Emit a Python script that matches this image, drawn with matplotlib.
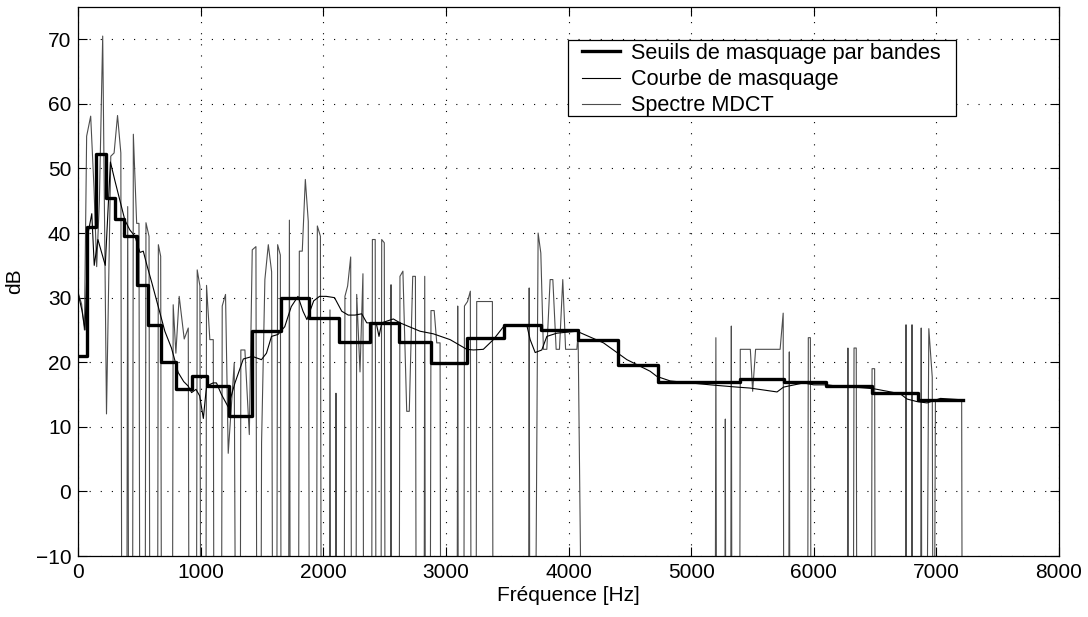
import matplotlib
matplotlib.use("Agg")
import matplotlib.pyplot as plt
from matplotlib.patches import Rectangle

plt.rcParams['font.family'] = ['Liberation Sans', 'DejaVu Sans']
plt.rcParams['font.size'] = 15

# Band masking thresholds (step function): band edges [Hz] and level per band [dB]
band_edges = [0, 72, 148, 225, 298, 374, 475, 565, 673, 793, 924, 1046, 1231, 1419,
              1653, 1880, 2129, 2380, 2619, 2875, 3169, 3475, 3775, 4075, 4401, 4728,
              5051, 5400, 5753, 6100, 6475, 6851, 7218]
band_levels = [21.0, 40.9, 52.2, 45.5, 42.2, 39.5, 32.0, 25.7, 20.0, 15.8, 17.8, 16.3,
               11.7, 24.9, 30.0, 26.9, 23.2, 26.0, 23.2, 19.9, 23.8, 25.7, 25.0, 23.4,
               19.5, 16.9, 17.0, 17.4, 16.9, 16.3, 15.3, 14.1]

# Masking curve
mask_freq = [0, 30, 55, 80, 110, 130, 160, 190, 220, 262, 300, 340, 380, 420, 462, 503,
             530, 560, 600, 706, 760, 815, 860, 897, 924, 960, 990, 1020, 1046, 1100,
             1127, 1168, 1222, 1278, 1346, 1420, 1494, 1535, 1576, 1629, 1684, 1737,
             1792, 1833, 1865, 1920, 1968, 2022, 2090, 2149, 2202, 2257, 2312, 2353,
             2430, 2453, 2475, 2570, 2624, 2788, 2896, 3033, 3169, 3223, 3304, 3386,
             3468, 3522, 3659, 3686, 3727, 3781, 3822, 3904, 4067, 4284, 4475, 4665,
             4720, 4829, 4992, 5155, 5373, 5482, 5700, 5753, 5917, 5998, 6108, 6190,
             6300, 6488, 6600, 6706, 6761, 6843, 6924, 7033, 7196]
mask_db = [30.5, 28.0, 25.0, 40.0, 43.0, 35.0, 39.0, 37.0, 35.0, 51.0, 48.0, 45.0, 42.0,
           40.5, 39.5, 37.0, 37.2, 35.0, 32.3, 24.8, 22.2, 18.4, 17.0, 16.3, 15.3, 15.8,
           14.8, 11.3, 16.3, 16.8, 16.8, 15.0, 13.1, 16.8, 20.5, 20.9, 20.4, 21.4, 24.0,
           24.3, 25.5, 28.6, 30.2, 27.9, 26.6, 29.5, 30.2, 30.2, 30.0, 27.9, 27.3, 27.3,
           27.5, 26.1, 26.1, 24.0, 26.1, 26.7, 26.1, 24.8, 24.4, 23.5, 22.0, 21.9, 22.0,
           23.5, 25.5, 25.8, 25.7, 23.5, 21.5, 21.9, 24.0, 24.5, 24.8, 23.0, 20.4, 18.6,
           17.8, 17.1, 16.8, 16.5, 16.15, 16.0, 15.4, 16.15, 16.8, 16.5, 16.5, 16.3,
           16.2, 15.9, 15.5, 15.1, 14.3, 13.9, 13.7, 14.4, 14.2]

# MDCT spectrum (-60 = empty bin, below the axis)
spec_freq = [0, 27, 50, 68, 101, 128, 150, 172, 199, 230, 265, 292, 320, 347, 358, 392,
             403, 414, 440, 449, 476, 495, 505, 542, 552, 577, 587, 643, 653, 672, 682,
             764, 774, 796, 823, 864, 897, 907, 960, 970, 992, 1002, 1038, 1046, 1073,
             1101, 1110, 1165, 1174, 1201, 1223, 1272, 1290, 1318, 1326, 1359, 1395,
             1419, 1449, 1460, 1485, 1495, 1522, 1550, 1577, 1590, 1615, 1626, 1648,
             1658, 1712, 1722, 1732, 1793, 1803, 1827, 1852, 1876, 1890, 1940, 1950,
             1975, 1985, 2045, 2053, 2062, 2094, 2102, 2110, 2165, 2175, 2197, 2222,
             2232, 2262, 2271, 2298, 2322, 2330, 2390, 2399, 2422, 2432, 2466, 2475,
             2496, 2506, 2543, 2551, 2559, 2614, 2624, 2648, 2679, 2700, 2728, 2750,
             2760, 2818, 2826, 2834, 2867, 2877, 2903, 2924, 2951, 2960, 3087, 3095,
             3103, 3142, 3150, 3175, 3198, 3208, 3242, 3250, 3378, 3386, 3670, 3678,
             3686, 3718, 3751, 3773, 3794, 3822, 3849, 3871, 3898, 3925, 3952, 3975,
             4067, 4077, 4125, 5192, 5201, 5210, 5270, 5278, 5286, 5318, 5327, 5335,
             5392, 5400, 5482, 5501, 5525, 5725, 5750, 5758, 5792, 5800, 5808, 5946,
             5955, 5972, 5980, 6270, 6278, 6286, 6318, 6328, 6346, 6354, 6466, 6475,
             6496, 6504, 6744, 6752, 6760, 6793, 6801, 6809, 6868, 6876, 6884, 6912,
             6938, 6966, 6976, 6992, 7206, 7214]
spec_db = [30.7, 29.0, 25.0, 55.0, 58.1, 47.0, 34.8, 45.0, 70.5, 12.0, 51.9, 52.4, 58.2,
           52.4, -60, -60, 44.1, -60, -60, 55.3, 41.5, 41.5, -60, -60, 41.6, 39.5, -60,
           -60, 38.2, 36.4, -60, -60, 28.9, 21.4, 30.2, 23.6, 25.3, -60, -60, 34.3, 31.8,
           -60, -60, 31.9, 23.5, 23.5, -60, -60, 28.7, 30.5, 5.9, 19.9, -60, -60, 21.9,
           21.9, 8.8, 37.4, 37.9, -60, -60, 7.5, 32.8, 38.2, 34.0, -60, -60, 38.2, 36.6,
           -60, -60, 42.0, -60, -60, 37.2, 37.2, 48.3, 41.8, -60, -60, 41.1, 39.5, -60,
           -60, 28.1, -60, -60, 15.2, -60, -60, 30.2, 31.8, 36.3, -60, -60, 30.5, 18.5,
           33.7, -60, -60, 39.0, 39.0, -60, -60, 39.0, 38.5, -60, -60, 32.0, -60, -60,
           33.3, 34.1, 12.4, 12.4, 33.3, 33.3, -60, -60, 33.3, -60, -60, 28.0, 28.0,
           23.0, 23.0, -60, -60, 28.7, -60, -60, 28.7, 29.4, 31.0, -60, -60, 29.4, 29.4,
           -60, -60, 31.5, -60, -60, 40.0, 36.9, 22.0, 22.0, 32.8, 32.8, 22.0, 22.0,
           32.8, 22.0, 22.0, 24.5, -60, -60, 23.8, -60, -60, 11.2, -60, -60, 25.6, -60,
           -60, 22.0, 22.0, 15.5, 22.0, 22.0, 27.6, -60, -60, 21.6, -60, -60, 23.8, 23.8,
           -60, -60, 22.2, -60, -60, 22.2, 22.2, -60, -60, 19.0, 19.0, -60, -60, 25.8,
           -60, -60, 25.8, -60, -60, 25.3, -60, -60, 25.2, 17.7, -60, 14.2, 14.2, -60]

x_ticks = [0, 1000, 2000, 3000, 4000, 5000, 6000, 7000, 8000]
y_ticks = [-10, 0, 10, 20, 30, 40, 50, 60, 70]
labels = ['Seuils de masquage par bandes', 'Courbe de masquage', 'Spectre MDCT']

W, H = 1088, 617
fig = plt.figure(figsize=(W / 100, H / 100), dpi=100)
ax = fig.add_axes([78.3 / W, 61 / H, 980.7 / W, 549 / H])

h1, = ax.plot(band_edges, band_levels + [band_levels[-1]], drawstyle='steps-post',
              color='black', lw=2.4, zorder=4)
h2, = ax.plot(mask_freq, mask_db, color='black', lw=0.8, zorder=3)
h3, = ax.plot(spec_freq, spec_db, color='0.3', lw=0.8, zorder=2)

ax.set_xlim(0, 8000)
ax.set_ylim(-10, 75)
ax.set_xticks(x_ticks)
ax.set_yticks(y_ticks)
ax.set_yticklabels(['\u221210' if t < 0 else str(t) for t in y_ticks])
ax.grid(True, color='black', linestyle=(0, (1, 9)), lw=0.8)
ax.tick_params(direction='in', length=6.5, width=0.8, top=True, right=True, pad=5)
for s in ax.spines.values():
    s.set_linewidth(0.9)
ax.set_xlabel('Fréquence [Hz]', labelpad=3)
ax.set_ylabel('dB', labelpad=8)

# legend box (frame drawn separately to match the wide horizontal padding)
box = Rectangle((568.3 / W, 1 - 116 / H), (955.7 - 568.3) / W, 76 / H,
                transform=fig.transFigure, facecolor='white', edgecolor='black',
                lw=0.9, zorder=1)
fig.add_artist(box)
leg = fig.legend([h1, h2, h3], labels, loc='upper left',
                 bbox_to_anchor=(581.7 / W, 1 - 43 / H), bbox_transform=fig.transFigure,
                 borderaxespad=0, borderpad=0, frameon=False, fontsize=15.6,
                 handlelength=1.75, handletextpad=0.54, labelspacing=0.24)
leg.set_zorder(2)

fig.savefig('out.png', dpi=100)
